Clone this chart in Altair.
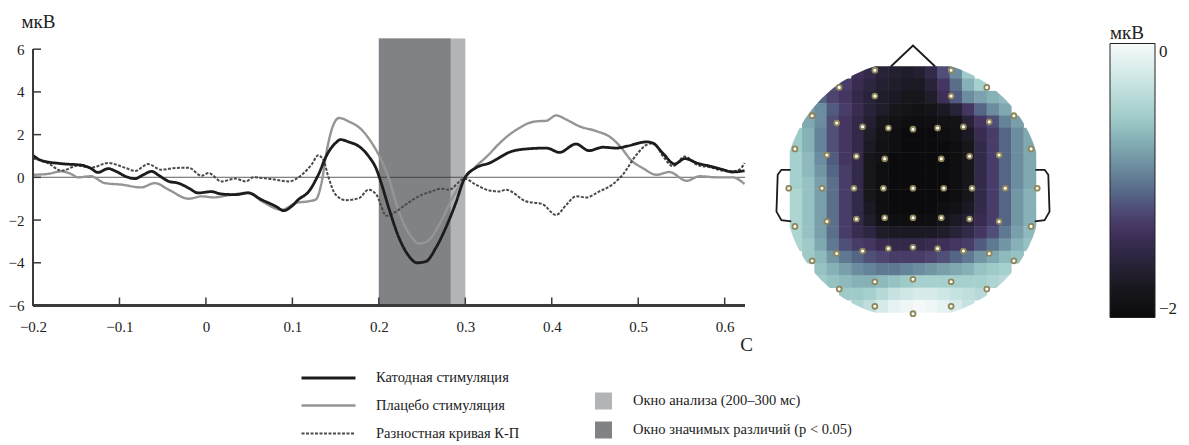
import altair as alt
import pandas as pd

SERIF = "Liberation Serif"

# ---------------- ERP curves (time in s, amplitude in µV) ----------------
series_names = ["Катодная стимуляция", "Плацебо стимуляция", "Разностная кривая К-П"]

cathode_t = [-0.200, -0.191, -0.167, -0.144, -0.134, -0.125, -0.113, -0.104, -0.092, -0.082,
             -0.072, -0.063, -0.053, -0.043, -0.032, -0.020, -0.009, 0.006, 0.018, 0.034,
             0.049, 0.064, 0.081, 0.090, 0.099, 0.107, 0.119, 0.130, 0.140, 0.150,
             0.156, 0.165, 0.177, 0.188, 0.197, 0.203, 0.212, 0.223, 0.235, 0.244,
             0.254, 0.266, 0.277, 0.289, 0.299, 0.312, 0.328, 0.354, 0.374, 0.394,
             0.409, 0.428, 0.443, 0.459, 0.475, 0.486, 0.510, 0.517, 0.530, 0.542,
             0.554, 0.568, 0.583, 0.598, 0.609, 0.623]
cathode_v = [1.03, 0.80, 0.64, 0.57, 0.44, 0.23, 0.41, 0.28, 0.03, -0.06,
             0.13, 0.28, 0.05, -0.19, -0.27, -0.50, -0.73, -0.67, -0.78, -0.81,
             -0.73, -1.04, -1.36, -1.56, -1.36, -1.04, -0.66, 0.12, 1.06, 1.61,
             1.77, 1.66, 1.45, 1.00, 0.40, -0.30, -1.50, -2.80, -3.70, -4.00,
             -3.95, -3.30, -2.40, -1.20, -0.06, 0.44, 0.67, 1.22, 1.34, 1.37,
             1.17, 1.56, 1.25, 1.41, 1.37, 1.45, 1.66, 1.60, 1.06, 0.62,
             0.88, 0.67, 0.52, 0.36, 0.25, 0.31]

placebo_t = [-0.200, -0.183, -0.167, -0.156, -0.148, -0.133, -0.117, -0.098, -0.075, -0.059,
             -0.043, -0.020, -0.005, 0.009, 0.026, 0.049, 0.064, 0.088, 0.104, 0.119,
             0.127, 0.134, 0.140, 0.146, 0.154, 0.165, 0.180, 0.192, 0.203, 0.212,
             0.220, 0.227, 0.238, 0.246, 0.256, 0.270, 0.285, 0.299, 0.312, 0.328,
             0.336, 0.351, 0.362, 0.374, 0.382, 0.394, 0.405, 0.417, 0.432, 0.452,
             0.467, 0.478, 0.493, 0.505, 0.521, 0.536, 0.556, 0.571, 0.591, 0.609, 0.623]
placebo_v = [0.12, 0.16, 0.28, 0.16, 0.00, 0.05, -0.27, -0.34, -0.47, -0.27,
             -0.58, -1.00, -0.89, -0.94, -0.84, -0.72, -1.10, -1.52, -1.20, -1.12,
             -1.04, -0.20, 1.30, 2.30, 2.78, 2.62, 2.23, 1.60, 0.80, -0.10,
             -1.20, -2.00, -2.80, -3.10, -3.00, -2.20, -0.97, -0.06, 0.50, 1.10,
             1.45, 2.00, 2.30, 2.55, 2.62, 2.65, 2.90, 2.70, 2.39, 2.16,
             1.90, 1.50, 0.75, 0.44, 0.12, 0.25, -0.16, 0.05, 0.00, 0.00, -0.31]

diff_t = [-0.200, -0.183, -0.167, -0.148, -0.133, -0.113, -0.093, -0.082, -0.067, -0.052,
          -0.035, -0.020, -0.005, 0.003, 0.018, 0.034, 0.046, 0.055, 0.072, 0.096,
          0.111, 0.122, 0.130, 0.136, 0.142, 0.150, 0.162, 0.177, 0.188, 0.197,
          0.209, 0.220, 0.231, 0.246, 0.261, 0.272, 0.281, 0.299, 0.312, 0.328,
          0.339, 0.347, 0.370, 0.389, 0.405, 0.417, 0.428, 0.440, 0.455, 0.470,
          0.482, 0.498, 0.510, 0.517, 0.530, 0.540, 0.554, 0.568, 0.583, 0.598,
          0.609, 0.617, 0.623]
diff_v = [0.88, 0.67, 0.31, 0.55, 0.45, 0.67, 0.44, 0.30, 0.62, 0.36,
          0.44, 0.45, 0.07, 0.20, -0.19, -0.06, -0.19, 0.00, -0.06, -0.19,
          0.12, 0.59, 1.03, 0.80, -0.03, -0.81, -1.07, -0.98, -0.58, -0.80,
          -1.80, -1.60, -1.28, -0.89, -0.66, -0.53, -0.58, -0.06, -0.34, -0.62,
          -0.66, -0.58, -1.12, -1.25, -1.76, -1.28, -0.89, -0.94, -0.66, -0.34,
          0.12, 1.06, 1.53, 1.60, 0.91, 0.52, 0.98, 0.59, 0.47, 0.31,
          0.28, 0.36, 0.67]

window_names = ["Окно анализа (200–300 мс)", "Окно значимых различий (p < 0.05)"]
window_start = [0.2, 0.2]
window_end = [0.3, 0.283]

x_ticks = [-0.2, -0.1, 0, 0.1, 0.2, 0.3, 0.4, 0.5, 0.6]
y_ticks = [-6, -4, -2, 0, 2, 4, 6]

# ---------------- Topographic map ----------------
elec_u = [-0.31, 0.31,
          -0.60, -0.31, 0.31, 0.60,
          -0.82, -0.62, -0.41, -0.20, 0.00, 0.20, 0.41, 0.62, 0.82,
          -0.96, -0.70, -0.46, -0.23, 0.23, 0.46, 0.70, 0.96,
          -1.01, -0.74, -0.48, -0.24, 0.00, 0.25, 0.48, 0.75, 1.01,
          -0.96, -0.70, -0.46, -0.23, 0.00, 0.23, 0.46, 0.70, 0.96,
          -0.82, -0.62, -0.41, -0.20, 0.00, 0.20, 0.41, 0.62, 0.82,
          -0.60, -0.31, 0.00, 0.31, 0.60,
          -0.31, 0.00, 0.31]
elec_v = [0.97, 0.97,
          0.83, 0.76, 0.76, 0.83,
          0.60, 0.54, 0.51, 0.50, 0.49, 0.50, 0.51, 0.55, 0.60,
          0.33, 0.28, 0.27, 0.25, 0.25, 0.27, 0.28, 0.33,
          0.01, 0.01, 0.01, 0.01, 0.01, 0.01, 0.01, 0.01, 0.01,
          -0.30, -0.26, -0.24, -0.23, -0.23, -0.23, -0.24, -0.26, -0.30,
          -0.58, -0.52, -0.50, -0.48, -0.47, -0.48, -0.50, -0.52, -0.58,
          -0.81, -0.75, -0.73, -0.75, -0.81,
          -0.95, -1.01, -0.95]

# amplitude (µV) on a 20 x 20 grid over the head, top row = front
topo_rows = [
    [-1.3, -1.3, -1.3, -1.3, -1.3, -1.4, -1.5, -1.6, -1.65, -1.7, -1.65, -1.5, -1.2, -0.9, -0.55, -0.5, -0.5, -0.5, -0.5, -0.5],
    [-1.2, -1.2, -1.2, -1.2, -1.3, -1.45, -1.55, -1.65, -1.7, -1.75, -1.75, -1.6, -1.35, -1.05, -0.7, -0.5, -0.5, -0.5, -0.5, -0.5],
    [-1.0, -1.0, -1.1, -1.25, -1.35, -1.5, -1.6, -1.7, -1.75, -1.8, -1.8, -1.7, -1.4, -1.15, -0.9, -0.78, -0.7, -0.65, -0.6, -0.6],
    [-0.8, -0.8, -0.9, -1.15, -1.3, -1.45, -1.6, -1.7, -1.8, -1.85, -1.9, -1.85, -1.75, -1.6, -1.35, -1.1, -0.9, -0.75, -0.7, -0.7],
    [-0.65, -0.75, -0.9, -1.2, -1.35, -1.5, -1.65, -1.8, -1.9, -1.95, -1.95, -1.95, -1.9, -1.85, -1.6, -1.35, -1.2, -0.95, -0.8, -0.7],
    [-0.55, -0.7, -0.95, -1.2, -1.35, -1.5, -1.7, -1.85, -1.95, -2.0, -2.0, -2.0, -1.95, -1.9, -1.75, -1.45, -1.3, -1.1, -0.9, -0.75],
    [-0.55, -0.7, -0.95, -1.2, -1.35, -1.5, -1.75, -1.9, -1.95, -2.0, -2.0, -2.0, -2.0, -1.95, -1.8, -1.5, -1.3, -1.1, -0.9, -0.75],
    [-0.5, -0.65, -0.9, -1.15, -1.35, -1.5, -1.8, -1.9, -2.0, -2.0, -2.0, -2.0, -2.0, -1.95, -1.8, -1.5, -1.3, -1.1, -0.9, -0.75],
    [-0.5, -0.65, -0.85, -1.1, -1.3, -1.5, -1.8, -1.95, -2.0, -2.0, -2.0, -2.0, -2.0, -1.95, -1.8, -1.5, -1.3, -1.1, -0.9, -0.75],
    [-0.5, -0.6, -0.8, -1.05, -1.3, -1.5, -1.8, -1.95, -2.0, -2.0, -2.0, -2.0, -2.0, -1.95, -1.8, -1.5, -1.3, -1.1, -0.9, -0.75],
    [-0.45, -0.6, -0.8, -1.05, -1.3, -1.5, -1.8, -1.95, -2.0, -2.0, -2.0, -2.0, -2.0, -1.95, -1.8, -1.5, -1.3, -1.1, -0.85, -0.7],
    [-0.45, -0.6, -0.8, -1.05, -1.3, -1.5, -1.75, -1.95, -2.0, -2.0, -2.0, -2.0, -1.95, -1.9, -1.75, -1.5, -1.3, -1.1, -0.85, -0.7],
    [-0.45, -0.6, -0.8, -1.05, -1.3, -1.5, -1.7, -1.9, -1.95, -1.95, -1.95, -1.95, -1.85, -1.75, -1.65, -1.45, -1.3, -1.1, -0.85, -0.7],
    [-0.45, -0.6, -0.8, -1.05, -1.3, -1.45, -1.55, -1.7, -1.75, -1.75, -1.75, -1.75, -1.7, -1.6, -1.5, -1.35, -1.2, -1.0, -0.8, -0.65],
    [-0.45, -0.55, -0.75, -1.0, -1.2, -1.3, -1.35, -1.45, -1.5, -1.5, -1.5, -1.45, -1.4, -1.35, -1.3, -1.15, -1.0, -0.85, -0.7, -0.6],
    [-0.5, -0.55, -0.65, -0.85, -1.0, -1.1, -1.2, -1.25, -1.3, -1.3, -1.3, -1.25, -1.2, -1.1, -1.0, -0.85, -0.75, -0.65, -0.6, -0.5],
    [-0.5, -0.5, -0.6, -0.7, -0.8, -0.9, -0.95, -1.0, -1.0, -0.95, -0.9, -0.85, -0.8, -0.75, -0.7, -0.6, -0.55, -0.5, -0.5, -0.5],
    [-0.5, -0.5, -0.55, -0.6, -0.65, -0.7, -0.7, -0.65, -0.6, -0.55, -0.5, -0.5, -0.5, -0.5, -0.5, -0.5, -0.45, -0.4, -0.4, -0.4],
    [-0.55, -0.55, -0.55, -0.55, -0.55, -0.55, -0.5, -0.4, -0.3, -0.25, -0.2, -0.2, -0.25, -0.3, -0.35, -0.4, -0.4, -0.4, -0.4, -0.4],
    [-0.45, -0.45, -0.45, -0.45, -0.45, -0.45, -0.35, -0.2, -0.1, -0.05, -0.02, -0.05, -0.1, -0.2, -0.3, -0.3, -0.3, -0.3, -0.3, -0.3],
]

color_stops = [-2.0, -1.8, -1.6, -1.4, -1.25, -1.05, -0.85, -0.55, -0.3, 0.0]
color_range = ["#0b0b0d", "#17161b", "#29233a", "#3f2f58", "#4d4470", "#5b6f8b",
               "#7396a5", "#9ecbc8", "#c7e3e1", "#f7fafa"]

nose_u = [-0.18, 0.0, 0.18]
nose_v = [1.0, 1.17, 1.0]
ear_side = ["L"] * 6 + ["R"] * 6
ear_u = [-0.995, -1.07, -1.10, -1.11, -1.07, -0.99, 0.995, 1.07, 1.10, 1.11, 1.07, 0.99]
ear_v = [0.16, 0.16, 0.12, -0.18, -0.25, -0.26, 0.16, 0.16, 0.12, -0.18, -0.25, -0.26]

# ---------------- build tables ----------------
rows = []
for name, ts, vs in [(series_names[0], cathode_t, cathode_v),
                     (series_names[1], placebo_t, placebo_v),
                     (series_names[2], diff_t, diff_v)]:
    for i, (t, v) in enumerate(zip(ts, vs)):
        rows.append({"series": name, "t": t, "v": v, "i": i})
lines_df = pd.DataFrame(rows)
win_df = pd.DataFrame({"window": window_names, "start": window_start, "end": window_end})
xt_df = pd.DataFrame({"tick": x_ticks})
yt_df = pd.DataFrame({"tick": y_ticks})

n = len(topo_rows)
step = 2.0 / n
cells = []
for r, row in enumerate(topo_rows):
    cv = 1.0 - step * (r + 0.5)
    for c, val in enumerate(row):
        cu = -1.0 + step * (c + 0.5)
        nu = max(abs(cu) - step / 2, 0.0)
        nv = max(abs(cv) - step / 2, 0.0)
        if nu * nu + nv * nv < 1.0:
            h = step / 2 * 1.04
            cells.append({"x0": cu - h, "x1": cu + h, "y0": cv - h, "y1": cv + h, "val": val})
cells_df = pd.DataFrame(cells)
elec_df = pd.DataFrame({"u": elec_u, "v": elec_v})
nose_df = pd.DataFrame({"u": nose_u, "v": nose_v, "i": range(len(nose_u))})
ear_df = pd.DataFrame({"u": ear_u, "v": ear_v, "side": ear_side, "i": range(len(ear_u))})
center_df = pd.DataFrame({"u": [0.0], "v": [0.0]})

# ---------------- ERP panel ----------------
W, H = 712, 267
xs = alt.Scale(domain=[-0.2, 0.6235], nice=False, zero=False)
ys = alt.Scale(domain=[-6, 6.5], nice=False, zero=False)
x_axis = alt.Axis(values=x_ticks, format="~g", domain=False, ticks=False, grid=False,
                  labelFont=SERIF, labelFontSize=15, labelColor="#222", labelPadding=14,
                  title="С", titleFont=SERIF, titleFontSize=19, titleFontWeight="normal",
                  titleColor="#222", titleX=713, titleY=45, titleAlign="center",
                  titleBaseline="alphabetic", labelFlush=False)
y_axis = alt.Axis(values=y_ticks, format="d", domain=False, ticks=False, grid=False,
                  labelFont=SERIF, labelFontSize=15, labelColor="#222", labelPadding=9,
                  title="мкВ", titleFont=SERIF, titleFontSize=19, titleFontWeight="normal",
                  titleColor="#222", titleAngle=0, titleX=-12, titleY=-11, titleAlign="left",
                  titleBaseline="alphabetic", labelFlush=False)


def XF(f):
    return alt.X(f, scale=xs, axis=x_axis, title="С")


def YF(f):
    return alt.Y(f, scale=ys, axis=y_axis, title="мкВ")


def YD(d):
    return alt.YDatum(d, scale=ys, axis=y_axis, title="мкВ")


windows = alt.Chart(win_df).mark_rect().encode(
    x=XF("start:Q"), x2="end:Q",
    y=alt.value(0), y2=alt.value(H),
    fill=alt.Fill("window:N", scale=alt.Scale(domain=window_names, range=["#b3b4b8", "#818286"]),
                  legend=alt.Legend(title=None, orient="none", legendX=562, legendY=354,
                                    symbolType="square", symbolSize=289, symbolStrokeWidth=0,
                                    labelFont=SERIF, labelFontSize=14.5, labelColor="#222",
                                    labelOffset=21, rowPadding=12, labelLimit=500)),
)

zero = alt.Chart(yt_df).mark_rule(color="#333", opacity=0.15, strokeWidth=1).encode(y=YD(0))

line_legend = alt.Legend(title=None, orient="none", legendX=287, legendY=331,
                         symbolType="M-4,0H4", symbolSize=182, labelFont=SERIF,
                         labelFontSize=14.5, labelColor="#222", labelOffset=39,
                         rowPadding=13, labelLimit=500)
base_line = alt.Chart(lines_df).mark_line(interpolate="monotone").encode(
    x=XF("t:Q"), y=YF("v:Q"),
    color=alt.Color("series:N", scale=alt.Scale(domain=series_names,
                                                range=["#1c1c1c", "#959595", "#4a4a4a"]),
                    legend=line_legend),
    strokeDash=alt.StrokeDash("series:N", scale=alt.Scale(domain=series_names,
                                                          range=[[1, 0], [1, 0], [3, 1.5]]),
                              legend=line_legend),
    strokeWidth=alt.StrokeWidth("series:N", scale=alt.Scale(domain=series_names,
                                                            range=[2.8, 2.0, 1.1]),
                                legend=line_legend),
    order="i:Q",
)
line_layers = [base_line.transform_filter(alt.datum.series == nm)
               for nm in [series_names[1], series_names[2], series_names[0]]]

axis_col = "#3a3a3a"
y_line = alt.Chart(yt_df).mark_rule(color=axis_col, strokeWidth=2).encode(
    x=alt.value(0), y=YD(-6), y2=alt.Y2Datum(6))
x_line = alt.Chart(xt_df).mark_rule(color=axis_col, strokeWidth=2).encode(
    y=YD(-6), x=alt.value(0), x2=alt.value(W))
y_tk = alt.Chart(yt_df).mark_rule(color=axis_col, strokeWidth=1.5).encode(
    y=YF("tick:Q"), x=alt.value(0), x2=alt.value(8))
x_tk = alt.Chart(xt_df).mark_rule(color=axis_col, strokeWidth=1.5).encode(
    x=XF("tick:Q"), y=alt.value(H), y2=alt.value(H - 8))

erp = alt.layer(windows, zero, *line_layers, y_line, x_line, y_tk, x_tk).properties(width=W, height=H)

# ---------------- Topomap panel ----------------
TW, TH = 308, 280
us = alt.Scale(domain=[-1.252, 1.252], nice=False, zero=False)
vs = alt.Scale(domain=[-1.049, 1.2276], nice=False, zero=False)

cells_l = alt.Chart(cells_df).mark_rect().encode(
    x=alt.X("x0:Q", scale=us, axis=None), x2="x1:Q",
    y=alt.Y("y0:Q", scale=vs, axis=None), y2="y1:Q",
    color=alt.Color("val:Q", scale=alt.Scale(domain=color_stops, range=color_range, clamp=True),
                    legend=alt.Legend(title="мкВ", orient="none", legendX=351, legendY=-15,
                                      direction="vertical", gradientLength=274,
                                      gradientThickness=45, values=[-2, 0], format="d",
                                      labelFont=SERIF, labelFontSize=17, labelColor="#222",
                                      titleFont=SERIF, titleFontSize=19, titleFontWeight="normal",
                                      titleColor="#222", titlePadding=1,
                                      gradientStrokeColor="#222", gradientStrokeWidth=1,
                                      labelOffset=4)),
)
ring = alt.Chart(center_df).mark_point(shape="circle", size=75076, filled=False, stroke="white",
                                       strokeWidth=16, opacity=1).encode(
    x=alt.X("u:Q", scale=us, axis=None), y=alt.Y("v:Q", scale=vs, axis=None))
nose = alt.Chart(nose_df).mark_line(color="#1a1a1a", strokeWidth=1.8).encode(
    x=alt.X("u:Q", scale=us, axis=None), y=alt.Y("v:Q", scale=vs, axis=None), order="i:Q")
ears = alt.Chart(ear_df).mark_line(color="#1a1a1a", strokeWidth=1.8).encode(
    x=alt.X("u:Q", scale=us, axis=None), y=alt.Y("v:Q", scale=vs, axis=None),
    detail="side:N", order="i:Q")
elecs = alt.Chart(elec_df).mark_point(shape="circle", size=24, filled=True, fill="white",
                                      stroke="#8e8558", strokeWidth=1.8, opacity=1).encode(
    x=alt.X("u:Q", scale=us, axis=None), y=alt.Y("v:Q", scale=vs, axis=None))

topo = alt.layer(cells_l, ring, nose, ears, elecs).properties(width=TW, height=TH)

chart = alt.hconcat(erp, topo, spacing=14, bounds="flush").resolve_scale(
    color="independent", fill="independent", strokeDash="independent", strokeWidth="independent",
    x="independent", y="independent"
).properties(
    padding={"left": 0, "top": 4.5, "right": 0, "bottom": 0}, background="white"
).configure_view(stroke=None)

chart.save("out.html", embed_options={"renderer": "svg", "actions": False})
